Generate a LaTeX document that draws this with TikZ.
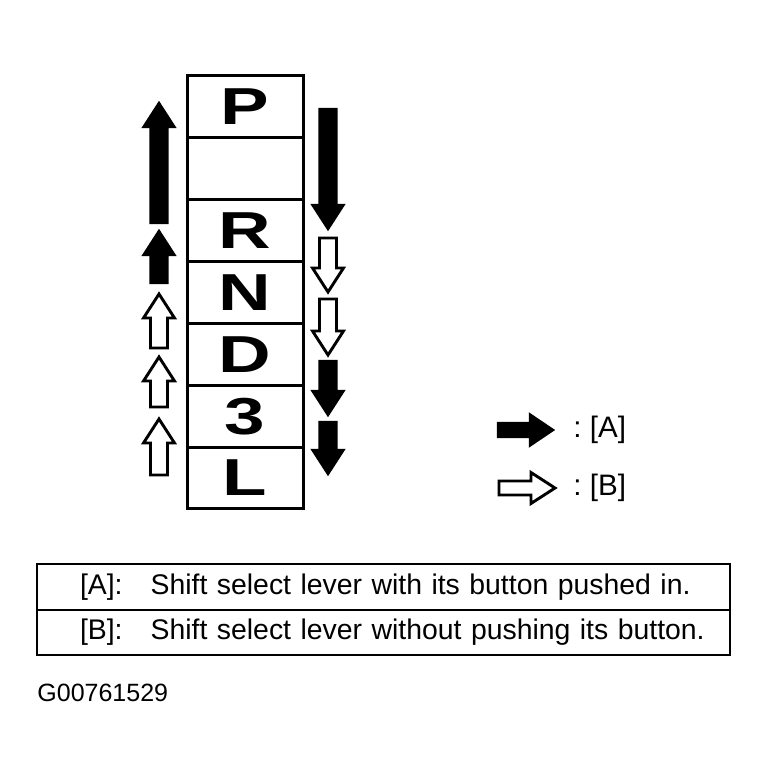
\documentclass[tikz,border=0pt]{standalone}
\usepackage{fontspec}
\setmainfont{Liberation Sans}
\usepackage{tikz}
\usetikzlibrary{positioning}
\newcommand{\vshift}[5]
{
	\draw[#1] (#2-8.5,#3) -- (#2-8.5,#5) -- (#2-15.5,#5) -- (#2,#4) -- (#2+15.5,#5) -- (#2+8.5,#5) -- (#2+8.5,#3) -- cycle
}
\newcommand{\hshift}[5]
{
	\draw[#1] (#3,#2-7) -- (#5,#2-7) -- (#5,#2-15.5) -- (#4,#2) -- (#5,#2+15.5) -- (#5,#2+7) -- (#3,#2+7) -- cycle
}
\newcommand{\wide}[1]{\scalebox{1.4}[1]{#1}}

\begin{document}
\begin{tikzpicture}[x=0.5pt, y=-0.5pt,
solid/.style={draw, fill=black, line width=1.2pt, line join=miter},
hollow/.style={draw, fill=white, line width=1.45pt, line join=miter},
gear/.style={draw, line width=1.5pt, outer sep=0pt, minimum width=58pt, minimum height=30.93pt, font=\fontsize{26}{26}\selectfont\bfseries},
tablerow/.style={draw, line width=1pt, outer sep=0pt, text width=346.5pt, inner xsep=0pt, minimum height=22.75pt, align=left, font=\fontsize{14.2}{17}\selectfont},
keytext/.style={anchor=west, inner sep=0pt, font=\fontsize{14.8}{17}\selectfont}]

\useasboundingbox (0,0) rectangle (769,779);

% selector gate
\node[gear] at (245, 106.9) (P){\wide{P}};
\node[gear, below=0pt of P] (gap){};
\node[gear, below=0pt of gap] (R){\wide{R}};
\node[gear, below=0pt of R] (N){\wide{N}};
\node[gear, below=0pt of N] (D){\wide{D}};
\node[gear, below=0pt of D] (three){\wide{3}};
\node[gear, below=0pt of three] (L){\wide{L}};

% upshifts
\vshift{solid}{159}{223}{103}{127};
\vshift{solid}{159}{283}{231}{255};
\vshift{hollow}{159}{348}{294}{318};
\vshift{hollow}{159}{407}{357}{381};
\vshift{hollow}{159}{475}{419}{443};

% downshifts
\vshift{solid}{328}{109}{229}{205};
\vshift{hollow}{328}{238}{292}{268};
\vshift{hollow}{328}{299}{355}{331};
\vshift{solid}{328}{361}{415}{391};
\vshift{solid}{328}{422}{474}{450};

% key
\hshift{solid}{430}{498}{553}{530};
\hshift{hollow}{488}{499}{555}{531};
\node[keytext] at (573, 430) (keyA){:\ [A]};
\node[keytext] at (573, 488) (keyB){:\ [B]};

% explanation table
\node[tablerow] at (383.5, 586.75) (rowA){\hspace*{21.5pt}[A]:\hspace{14pt}Shift select lever with its button pushed in.};
\node[tablerow, below=0pt of rowA] (rowB){\hspace*{21.5pt}[B]:\hspace{14pt}Shift select lever without pushing its button.};

\node[keytext, font=\fontsize{12.5}{13}\selectfont] at (37, 693) (code){G00761529};
\end{tikzpicture}
\end{document}
